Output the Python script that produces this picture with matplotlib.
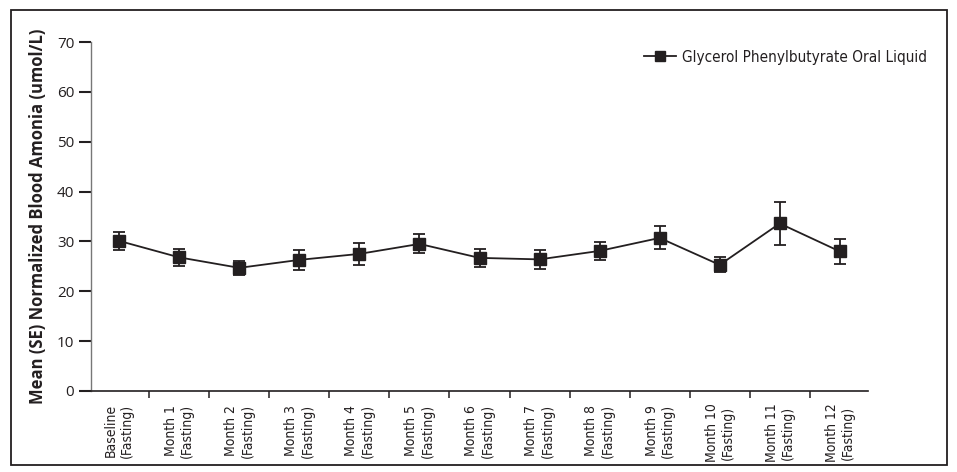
import matplotlib
matplotlib.use("Agg")
import matplotlib.pyplot as plt
from matplotlib.patches import Rectangle
from matplotlib.lines import Line2D
import numpy as np

# ==== Data ====
visits = ["Baseline", "Month 1", "Month 2", "Month 3", "Month 4", "Month 5", "Month 6",
          "Month 7", "Month 8", "Month 9", "Month 10", "Month 11", "Month 12"]
mean_nh3 = [30.1, 26.8, 24.7, 26.3, 27.5, 29.5, 26.7, 26.4, 28.1, 30.7, 25.3, 33.6, 28.0]
se_nh3 = [1.8, 1.75, 1.4, 2.0, 2.25, 1.9, 1.75, 1.85, 1.8, 2.3, 1.5, 4.3, 2.5]
y_ticks = [0, 10, 20, 30, 40, 50, 60, 70]
series_name = "Glycerol Phenylbutyrate Oral Liquid"

ink = "#231f20"
narrow = ["DejaVu Sans", "Liberation Sans"]

fig = plt.figure(figsize=(9.57, 4.72), dpi=100)
ax = fig.add_axes([91 / 957, 1 - 391 / 472, (868 - 91) / 957, (391 - 42) / 472])

x = np.arange(len(visits))
ax.errorbar(x, mean_nh3, yerr=se_nh3, color=ink, lw=1.3, marker="s", ms=8.5,
            mfc=ink, mec=ink, ecolor=ink, elinewidth=1.3, capsize=4, capthick=1.3,
            zorder=3)

ax.set_xlim(-0.47, 12.47)
ax.set_ylim(0, 70)

# x axis: labels under points, ticks between them
ax.set_xticks(x)
ax.set_xticklabels([v + "\n(Fasting)" for v in visits], rotation=90,
                   fontsize=10, color=ink, va="top", ha="center")
for lab in ax.get_xticklabels():
    lab.set_family(narrow)
    lab.set_stretch("condensed")
ax.tick_params(axis="x", which="major", length=0, pad=9)
ax.set_xticks(np.arange(0.5, 12.5, 1), minor=True)
ax.tick_params(axis="x", which="minor", length=5, width=1.1, color=ink, direction="out")

# y axis
ax.set_yticks(y_ticks)
ax.tick_params(axis="y", length=9, width=1.5, color=ink, direction="out", pad=3,
               labelsize=11, labelcolor=ink)
for lab in ax.get_yticklabels():
    lab.set_family(["Open Sans", "DejaVu Sans"])
ax.set_ylabel("Mean (SE) Normalized Blood Amonia (umol/L)", fontsize=12,
              fontweight="bold", family=["Open Sans", "DejaVu Sans"], color=ink,
              labelpad=7)

for s in ["top", "right"]:
    ax.spines[s].set_visible(False)
ax.spines["left"].set_color("#777777")
ax.spines["left"].set_linewidth(1.0)
ax.spines["bottom"].set_color(ink)
ax.spines["bottom"].set_linewidth(1.2)

handle = Line2D([], [], color=ink, lw=1.3, marker="s", ms=7.5, mfc=ink, mec=ink)
leg = ax.legend([handle], [series_name], loc="upper right",
                bbox_to_anchor=(941 / 957, 1 - 36 / 472),
                bbox_transform=fig.transFigure, frameon=False, handlelength=2.1,
                handletextpad=0.4, prop={"family": narrow, "size": 11,
                                         "stretch": "condensed"})
for t in leg.get_texts():
    t.set_color(ink)

# outer frame around the whole panel
fig.add_artist(Rectangle((11 / 957, 1 - 465 / 472), (947 - 11) / 957, (465 - 10) / 472,
                         transform=fig.transFigure, fill=False, ec=ink, lw=1.3))

fig.savefig("out.png", dpi=100)
